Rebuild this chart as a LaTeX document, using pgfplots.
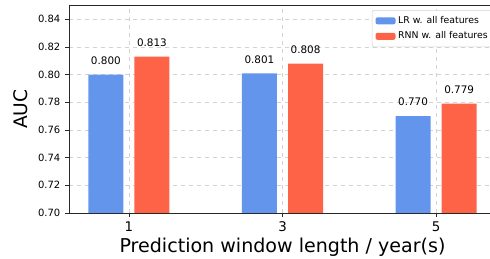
\documentclass[border=0pt]{standalone}
\usepackage{fontspec}
\setmainfont{DejaVu Sans}
\usepackage{pgfplots}
\pgfplotsset{compat=1.18}
\usetikzlibrary{calc}
\definecolor{cblue}{RGB}{100,149,237}
\definecolor{cred}{RGB}{255,99,71}
\definecolor{gridc}{RGB}{210,210,210}
\definecolor{spine}{RGB}{40,40,40}
\begin{document}
\begin{tikzpicture}
\begin{axis}[
  name=ax, at={(0,0)}, anchor=south west,
  scale only axis, width=320.25pt, height=155.625pt,
  ybar, bar width=0.228,
  xmin=-0.39, xmax=2.39, ymin=0.70, ymax=0.85,
  xtick={0,1,2}, xticklabels={1,3,5},
  ytick={0.70,0.72,0.74,0.76,0.78,0.80,0.82,0.84},
  /pgf/number format/assume math mode=true,
  yticklabel style={font=\fontsize{7.5}{8}\selectfont, /pgf/number format/fixed, /pgf/number format/precision=2, /pgf/number format/zerofill},
  xticklabel style={font=\fontsize{10}{11}\selectfont},
  tick align=outside, major tick length=3pt,
  tick style={spine, line width=0.6pt},
  axis line style={spine, line width=0.7pt},
  xtick pos=bottom, ytick pos=left,
  grid=major, grid style={gridc, dashed, line width=0.5pt},
  xlabel={Prediction window length / year(s)},
  ylabel={AUC},
  xlabel style={font=\fontsize{14.3}{16}\selectfont, yshift=2pt},
  ylabel style={font=\fontsize{14}{15}\selectfont, yshift=1pt},
  legend style={at={(rel axis cs:1,1)}, anchor=north east, xshift=-1.5pt, yshift=-3.4pt,
    font=\fontsize{7}{8}\selectfont, draw=gridc, rounded corners=1.5pt,
    row sep=0.8pt, inner sep=2.5pt, cells={anchor=west},
    /tikz/every even column/.append style={column sep=3.5pt}},
  legend image code/.code={\fill[#1] (0pt,-2.6pt) rectangle (15pt,2.6pt);},
  nodes near coords,
  nodes near coords style={font=\fontsize{7.8}{8}\selectfont, /pgf/number format/fixed, /pgf/number format/precision=3, /pgf/number format/zerofill, yshift=4pt},
]
\addplot[bar shift=-0.15, fill=cblue, draw=none] coordinates {(0,0.800) (1,0.801) (2,0.770)};
\addlegendentry{LR w. all features}
\addplot[bar shift=0.15, fill=cred, draw=none] coordinates {(0,0.813) (1,0.808) (2,0.779)};
\addlegendentry{RNN w. all features}
\end{axis}
\pgfresetboundingbox
\path[use as bounding box] ($(ax.south west)+(-51.75pt,-34.5pt)$) rectangle ($(ax.south west)+(315.75pt,159.75pt)$);
\end{tikzpicture}
\end{document}
